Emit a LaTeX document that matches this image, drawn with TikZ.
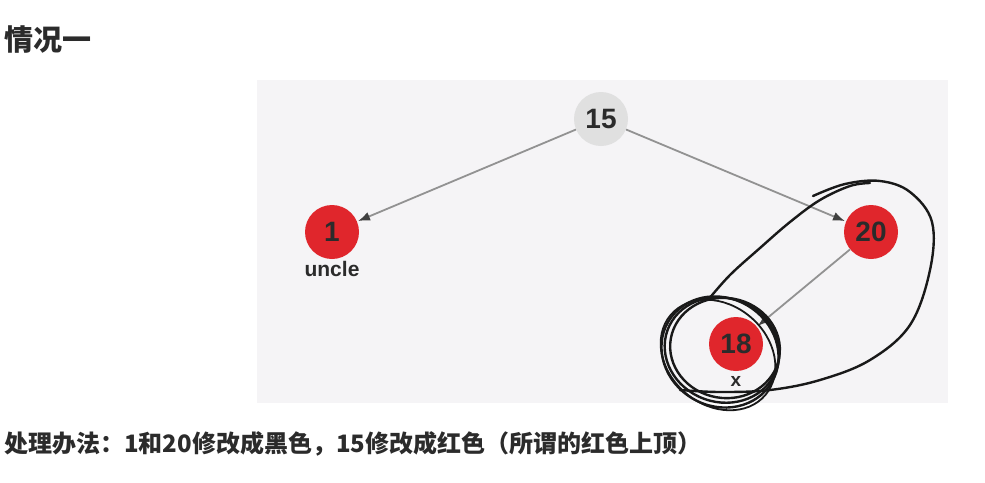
\documentclass[tikz,border=0pt]{standalone}
\usepackage{fontspec}
\setmainfont{Liberation Sans}
\newfontfamily\cjk{Noto Sans CJK SC}
\usetikzlibrary{arrows.meta}
\definecolor{panel}{HTML}{F5F4F6}
\definecolor{nodered}{HTML}{E0262C}
\definecolor{nodegray}{HTML}{E0E0E0}
\definecolor{txt}{HTML}{2B2B2B}
\definecolor{edge}{HTML}{929292}
\tikzset{
  rbnode/.style={circle, minimum size=54pt, inner sep=0pt, font=\bfseries\fontsize{28}{30}\selectfont, text=txt},
  rednode/.style={rbnode, fill=nodered},
  graynode/.style={rbnode, fill=nodegray},
  lbl/.style={font=\bfseries\fontsize{21}{23}\selectfont, text=txt, inner sep=0pt},
  edgeline/.style={draw=edge, line width=1.8pt, -{Latex[length=12pt,width=9pt,color=black!75]}, shorten >=1pt},
  scribble/.style={draw=black!90, line width=2.4pt, line cap=round, line join=round},
}
\begin{document}
\begin{tikzpicture}[x=1pt,y=-1pt]
\useasboundingbox (0,0) rectangle (985,482);
\fill[white] (0,0) rectangle (985,482);
\fill[panel] (257,80) rectangle (948,403);
% title
\node[anchor=west, inner sep=0pt, text=txt, font=\cjk\bfseries\fontsize{29}{32}\selectfont] (title) at (4,40) {情况一};
% nodes
\node[graynode] (n15) at (601,119) {15};
\node[rednode] (n1) at (332,232) {1};
\node[rednode] (n20) at (871,232) {20};
\node[rednode] (n18) at (736,344) {18};
\node[lbl] (uncle) at (332,269) {uncle};
\node[lbl, font=\bfseries\fontsize{19}{21}\selectfont] (xl) at (736,381) {x};
% edges
\draw[edgeline] (n15) -- (n1);
\draw[edgeline] (n15) -- (n20);
\draw[edgeline] (n20) -- (n18);
% hand-drawn big loop
\draw[scribble] plot[smooth, tension=0.6] coordinates {
 (813,196) (845,184) (880,181) (910,192) (932,222) (930,270) (910,325) (870,360) (820,380) (770,390) (720,392) (680,390)};
\draw[scribble] plot[smooth, tension=0.6] coordinates {
 (708,300) (730,275) (760,248) (790,222) (820,200) (850,186) (870,183)};
% scribbled circle around 18
\draw[scribble, rotate around={-20:(722,350)}] (722,350) ellipse (58 and 52);
\draw[scribble, rotate around={-30:(720,352)}] (720,352) ellipse (60 and 54);
\draw[scribble, rotate around={-10:(725,348)}] (725,348) ellipse (55 and 50);
\draw[scribble, line width=1.8pt, rotate around={-40:(718,355)}] (718,355) ellipse (62 and 50);
% bottom text
\node[anchor=west, inner sep=0pt, text=txt, font=\cjk\bfseries\fontsize{24}{28}\selectfont] (method) at (4,444) {处理办法：1和20修改成黑色，15修改成红色（所谓的红色上顶）};
\end{tikzpicture}
\end{document}
